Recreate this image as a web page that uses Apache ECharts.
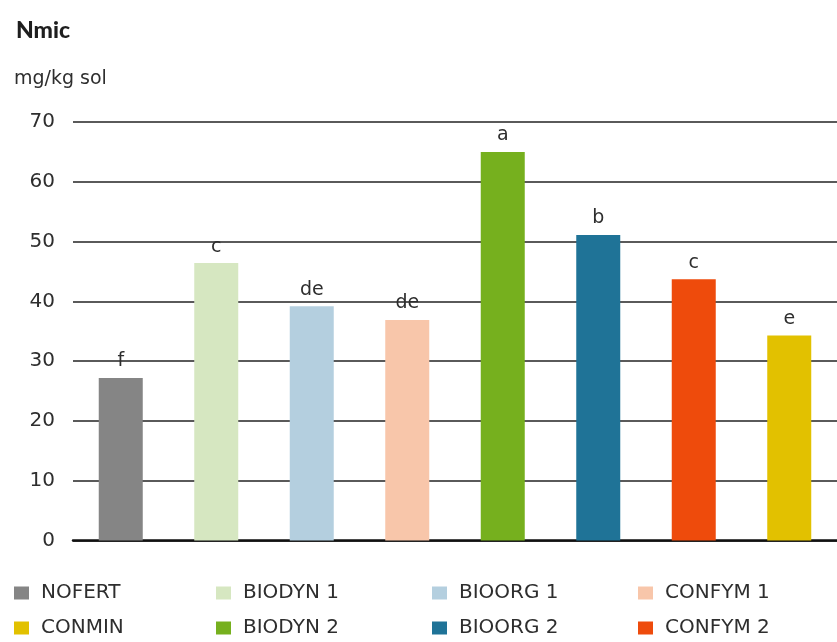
<!DOCTYPE html>
<html>
<head>
<meta charset="utf-8">
<script src="https://cdn.jsdelivr.net/npm/echarts@6/dist/echarts.min.js"></script>
<style>
  html, body { margin: 0; padding: 0; background: #fff; }
  #chart { width: 837px; height: 642px; }
</style>
</head>
<body>
<div id="chart"></div>
<script>
// Treatments, microbial nitrogen (mg/kg soil) and significance letters
const treatments = ['NOFERT', 'BIODYN 1', 'BIOORG 1', 'CONFYM 1', 'BIODYN 2', 'BIOORG 2', 'CONFYM 2', 'CONMIN'];
const nmicValues = [27.2, 46.4, 39.2, 36.9, 65.0, 51.1, 43.7, 34.3];
const groupLetters = ['f', 'c', 'de', 'de', 'a', 'b', 'c', 'e'];
const yTicks = [0, 10, 20, 30, 40, 50, 60, 70];

// Legend layout: two rows of four, columns read left to right
const legendOrder = ['NOFERT', 'BIODYN 1', 'BIOORG 1', 'CONFYM 1', 'CONMIN', 'BIODYN 2', 'BIOORG 2', 'CONFYM 2'];

const palette = {
  'NOFERT': '#858585',
  'BIODYN 1': '#d6e7c1',
  'BIOORG 1': '#b4cfdf',
  'CONFYM 1': '#f8c6aa',
  'BIODYN 2': '#76b01e',
  'BIOORG 2': '#1f7397',
  'CONFYM 2': '#ee4b0c',
  'CONMIN': '#e2c100'
};

const bodyFont = '"DejaVu Sans", sans-serif';
const titleFont = 'Lato, "DejaVu Sans", sans-serif';
const textColor = '#2e2e2e';

// One series per treatment so each gets its own legend entry; bars overlap in their own slot
const series = treatments.map((name, i) => ({
  name: name,
  type: 'bar',
  barWidth: 44,
  barGap: '-100%',
  z: 3,
  itemStyle: { color: palette[name] },
  label: {
    show: true,
    position: 'top',
    distance: 7,
    formatter: () => groupLetters[i],
    color: textColor,
    fontFamily: bodyFont,
    fontSize: 19
  },
  data: treatments.map((_, j) => (j === i ? nmicValues[i] : '-'))
}));

const colX = [14, 216, 432, 638];
const rowY = [583, 618];
const legends = legendOrder.map((name, k) => ({
  data: [name],
  left: colX[k % 4],
  top: rowY[Math.floor(k / 4)],
  icon: 'rect',
  itemWidth: 15,
  itemHeight: 13,
  itemGap: 0,
  padding: 0,
  selectedMode: false,
  textStyle: {
    color: textColor,
    fontFamily: bodyFont,
    fontSize: 20,
    padding: [0, 0, 0, 7]
  }
}));

const chart = echarts.init(document.getElementById('chart'), null, { renderer: 'canvas' });
chart.setOption({
  animation: false,
  backgroundColor: '#fff',
  title: [
    {
      text: 'Nmic',
      left: 11,
      top: 14,
      textStyle: { fontFamily: titleFont, fontWeight: 900, fontSize: 23, color: '#1e1e1e' }
    },
    {
      text: 'mg/kg sol',
      left: 9,
      top: 65,
      textStyle: { fontFamily: bodyFont, fontWeight: 'normal', fontSize: 19, color: textColor }
    }
  ],
  legend: legends,
  grid: { left: 73, right: 0, top: 122, height: 418.5, containLabel: false },
  xAxis: {
    type: 'category',
    data: treatments,
    axisLine: { show: true, lineStyle: { color: '#111', width: 2.5 } },
    axisTick: { show: false },
    axisLabel: { show: false }
  },
  yAxis: {
    type: 'value',
    min: yTicks[0],
    max: yTicks[yTicks.length - 1],
    interval: 10,
    axisLine: { show: false },
    axisTick: { show: false },
    axisLabel: {
      color: textColor,
      fontFamily: bodyFont,
      fontSize: 20,
      margin: 18
    },
    splitLine: { show: true, lineStyle: { color: '#5a5a5a', width: 2 } }
  },
  series: series
});
</script>
</body>
</html>
